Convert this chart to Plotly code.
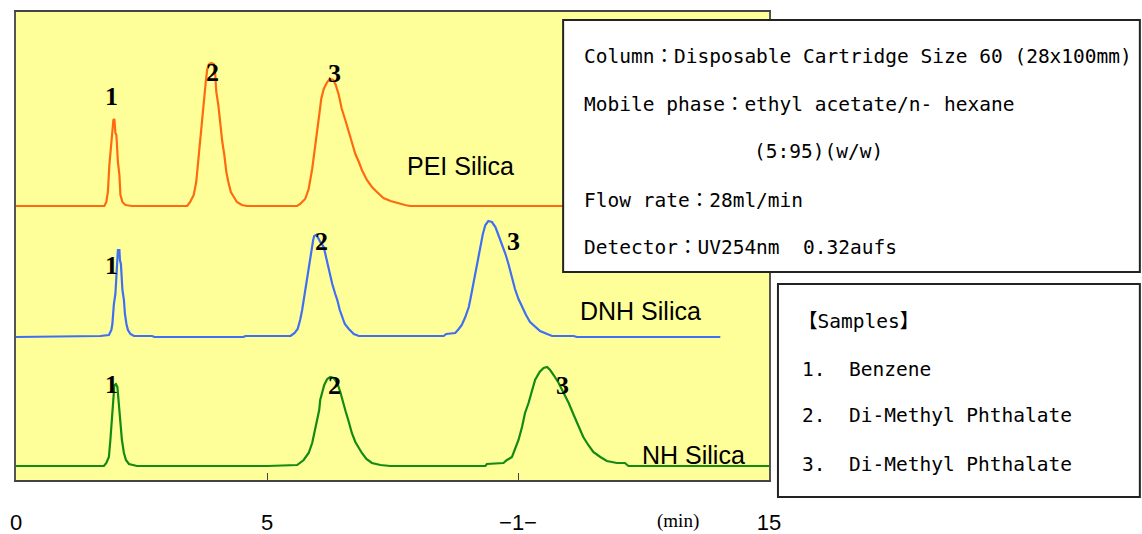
import plotly.graph_objects as go

# ---- data (time in min, signal above each baseline) ----
pei_time = [0, 1.76, 1.80, 1.83, 1.86, 1.90, 1.92, 1.94, 1.96, 1.98, 2.00, 2.03, 2.06, 2.08, 2.12, 2.18, 2.31,
            3.41, 3.47, 3.54, 3.59, 3.62, 3.66, 3.70, 3.74, 3.78, 3.81, 3.85, 3.89, 3.94, 3.97, 3.99, 4.03, 4.07,
            4.11, 4.15, 4.19, 4.23, 4.28, 4.34, 4.40, 4.50, 4.60,
            5.60, 5.66, 5.76, 5.83, 5.90, 5.94, 6.00, 6.04, 6.08, 6.13, 6.20, 6.25, 6.32, 6.37, 6.43, 6.49, 6.56,
            6.63, 6.69, 6.76, 6.83, 6.89, 6.99, 7.09, 7.19, 7.32, 7.46, 7.59, 7.75, 7.85, 15]
pei_signal = [0, 0, 4, 14, 41, 64, 72, 86, 87, 73, 71, 44, 31, 11, 4, 1, 0,
              0, 4, 11, 24, 41, 57, 84, 107, 124, 137, 142, 143, 142, 131, 114, 101, 81,
              64, 51, 34, 24, 14, 9, 4, 1, 0,
              0, 2, 7, 17, 37, 54, 74, 91, 107, 117, 124, 127, 126, 121, 111, 97, 86,
              74, 62, 52, 44, 36, 26, 19, 14, 8, 5, 3, 1, 0, 0]

dnh_time = [0, 1.68, 1.85, 1.90, 1.92, 1.95, 1.98, 2.00, 2.02, 2.03, 2.06, 2.07, 2.09, 2.12, 2.15, 2.17, 2.20,
            2.23, 2.28, 2.35, 2.71, 2.76, 4.53, 4.57,
            5.47, 5.55, 5.61, 5.66, 5.70, 5.74, 5.78, 5.81, 5.84, 5.86, 5.89, 5.92, 5.94, 5.98, 6.02, 6.06, 6.13,
            6.16, 6.21, 6.25, 6.30, 6.36, 6.40, 6.45, 6.50, 6.55, 6.63, 6.73, 6.83,
            8.52, 8.57, 8.75, 8.82, 8.88, 8.95, 9.02, 9.06, 9.11, 9.17, 9.21, 9.26, 9.30, 9.35, 9.41, 9.48, 9.55,
            9.61, 9.68, 9.75, 9.81, 9.88, 9.94, 10.01, 10.08, 10.16, 10.24, 10.34, 10.44, 10.58, 10.68, 11.11,
            11.17, 14.03]
dnh_signal = [0, 1, 2, 7, 13, 33, 43, 63, 77, 87, 87, 77, 73, 47, 37, 23, 13,
              7, 3, 1, 1, 0, 0, 1,
              1, 4, 8, 17, 27, 40, 50, 60, 70, 80, 90, 97, 101, 102, 99, 95, 90,
              83, 73, 63, 53, 43, 37, 27, 20, 13, 8, 3, 1,
              1, 3, 4, 8, 12, 20, 30, 40, 53, 67, 80, 93, 103, 112, 116, 115, 110,
              102, 93, 83, 73, 60, 48, 38, 30, 22, 15, 10, 6, 3, 1, 1,
              0, 0]

nh_time = [0, 1.75, 1.80, 1.85, 1.88, 1.91, 1.94, 1.95, 1.96, 1.99, 2.02, 2.03, 2.06, 2.08, 2.11, 2.15, 2.19,
           2.25, 2.41,
           5.00, 5.60, 5.73, 5.83, 5.90, 5.94, 6.00, 6.04, 6.06, 6.10, 6.14, 6.20, 6.26, 6.33, 6.40, 6.46, 6.51,
           6.57, 6.63, 6.69, 6.76, 6.83, 6.89, 6.98, 7.09, 7.26, 7.46,
           9.35, 9.38, 9.71, 9.78, 9.88, 9.94, 10.01, 10.08, 10.14, 10.21, 10.28, 10.34, 10.43, 10.51, 10.58,
           10.64, 10.71, 10.81, 10.91, 11.01, 11.11, 11.21, 11.30, 11.40, 11.50, 11.64, 11.77, 11.97, 12.13,
           12.20, 15.0]
nh_signal = [0, 0, 3, 9, 26, 46, 63, 73, 81, 82, 79, 73, 56, 39, 26, 13, 6,
             2, 0,
             0, 1, 6, 13, 23, 33, 46, 56, 66, 73, 81, 87, 89, 88, 83, 74, 66,
             54, 44, 33, 24, 18, 13, 7, 3, 1, 0,
             0, 2, 3, 6, 9, 16, 26, 39, 53, 63, 76, 86, 94, 98, 99,
             96, 91, 83, 73, 63, 51, 39, 29, 21, 14, 9, 5, 3, 3,
             0, 0]

series_names = ["PEI Silica", "DNH Silica", "NH Silica"]
series_offsets = [274, 143, 14]
series_colors = ["#FF6A10", "#3F6FF2", "#138A13"]

tick_values = [0, 5, 10, 15]
tick_labels = ["0", "5", "−1−", "15"]

peak_numbers = ["1", "2", "3"]
peak_label_times = [[1.90, 3.91, 6.34], [1.90, 6.08, 9.92], [1.90, 6.34, 10.88]]
peak_label_heights = [[110, 134, 133], [72, 96, 96], [82, 81, 81]]

series_label_times = [8.85, 12.45, 13.49]
series_label_heights = [40, 26, 11]

conditions = ["Column：Disposable Cartridge Size 60 (28x100mm)",
              "Mobile phase：ethyl acetate/n- hexane",
              "(5:95)(w/w)",
              "Flow rate：28ml/min",
              "Detector：UV254nm  0.32aufs"]
samples = ["【Samples】",
           "1.  Benzene",
           "2.  Di-Methyl Phthalate",
           "3.  Di-Methyl Phthalate"]

# ---- figure ----
fig = go.Figure()
all_t = [pei_time, dnh_time, nh_time]
all_s = [pei_signal, dnh_signal, nh_signal]
for name, t, s, off, col in zip(series_names, all_t, all_s, series_offsets, series_colors):
    fig.add_trace(go.Scatter(x=t, y=[v + off for v in s], mode="lines", name=name,
                             line=dict(color=col, width=2.2), showlegend=False, hoverinfo="skip"))

ann = []
serif = dict(family="Liberation Serif", size=26, color="#000")
for times, heights, off in zip(peak_label_times, peak_label_heights, series_offsets):
    for num, tt, hh in zip(peak_numbers, times, heights):
        ann.append(dict(x=tt, y=off + hh, text="<b>" + num + "</b>", showarrow=False,
                        xref="x", yref="y", font=serif))
for name, tt, hh, off in zip(series_names, series_label_times, series_label_heights, series_offsets):
    ann.append(dict(x=tt, y=off + hh, text=name, showarrow=False, xref="x", yref="y",
                    font=dict(family="Liberation Sans", size=25, color="#000")))

mono = dict(family="DejaVu Sans Mono, Noto Sans CJK JP", size=19.5, color="#000")
cond_y = [0.904, 0.803, 0.701, 0.598, 0.496]
cond_x = [0.752, 0.752, 0.977, 0.752, 0.752]
for txt, xx, yy in zip(conditions, cond_x, cond_y):
    ann.append(dict(x=xx, y=yy, xref="paper", yref="paper", text=txt, showarrow=False,
                    xanchor="left", yanchor="middle", font=mono))
samp_y = [0.338, 0.237, 0.137, 0.034]
samp_x = [1.036, 1.041, 1.041, 1.041]
for txt, xx, yy in zip(samples, samp_x, samp_y):
    ann.append(dict(x=xx, y=yy, xref="paper", yref="paper", text=txt, showarrow=False,
                    xanchor="left", yanchor="middle", font=mono))

ann.append(dict(x=13.18, y=-0.088, xref="x", yref="paper", text="(min)", showarrow=False,
                yanchor="middle", font=dict(family="Liberation Serif", size=19, color="#000")))

shapes = [
    dict(type="rect", xref="paper", yref="paper", x0=0.7266, x1=1.4925, y0=0.4444, y1=0.983,
         fillcolor="white", line=dict(color="#222", width=2), layer="above"),
    dict(type="rect", xref="paper", yref="paper", x0=1.0119, x1=1.4925, y0=-0.0363, y1=0.4188,
         fillcolor="white", line=dict(color="#222", width=2), layer="above"),
]

fig.update_layout(
    width=1142, height=534,
    margin=dict(l=16, r=373, t=12, b=54, autoexpand=False),
    paper_bgcolor="white", plot_bgcolor="#FFFF99",
    annotations=ann, shapes=shapes, showlegend=False,
    xaxis=dict(range=[0, 15], tickvals=tick_values, ticktext=tick_labels, ticks="inside",
               ticklen=7, tickcolor="#444", showgrid=False, zeroline=False,
               showline=True, linecolor="#444", linewidth=1.5, mirror=True,
               ticklabelstandoff=22, automargin=False,
               tickfont=dict(family="Liberation Sans", size=22, color="#000")),
    yaxis=dict(range=[0, 468], showticklabels=False, ticks="", showgrid=False, zeroline=False,
               showline=True, linecolor="#555", linewidth=1.5, mirror=True, automargin=False),
)

fig.write_html("out.html", config={"displayModeBar": False},
               post_script="document.body.style.margin='0';document.body.style.overflow='hidden';")
